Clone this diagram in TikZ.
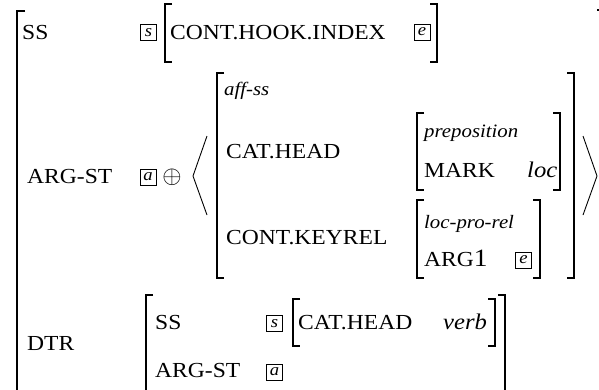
\documentclass[tikz,border=0pt]{standalone}
\usepackage{fontspec}
\setmainfont[FakeStretch=1.1]{Liberation Serif}
\usepackage{tikz}
\usetikzlibrary{positioning,calc}

\begin{document}
\begin{tikzpicture}[
    x=1bp, y=-1bp,
    feat/.style={anchor=base west, inner sep=0pt, font=\fontsize{21.5}{24}\selectfont},
    typ/.style={anchor=base west, inner sep=0pt, font=\fontsize{19}{22}\selectfont\itshape},
    val/.style={anchor=base west, inner sep=0pt, font=\fontsize{22.5}{26}\selectfont\itshape},
    tag/.style={draw, line width=0.6pt, inner sep=0pt, minimum width=16bp, minimum height=16bp, font=\fontsize{17}{17}\selectfont\itshape},
    brak/.style={line width=1.1pt},
    angl/.style={line width=0.9pt}
]
    \useasboundingbox (0,0) rectangle (599,389);
    \clip (0,0) rectangle (599,389);

    % Outer brackets
    \draw[brak] (25,11) -| (17,400);
    \draw[brak] (597,10) -| (606,400);

    % SS row
    \node (ss) [feat] at (22,39) {SS};
    \node (tags) [tag] at (148.5,32.5) {s};
    \draw[brak] (172,4) -| (165,62) -- (172,62);
    \node (hook) [feat] at (170,39) {CONT.HOOK.INDEX};
    \node (tage) [tag] at (422,32) {e};
    \draw[brak] (430,4) -| (437,62) -- (430,62);

    % ARG-ST row
    \node (argst) [feat] at (27,183) {ARG-ST};
    \node (taga) [tag] at (148,177) {a};
    \node (oplus) [inner sep=0pt, font=\fontsize{28}{28}\selectfont] at (172,177) {$\oplus$};
    \draw[angl] (207,136) -- (193,176) -- (207,215);
    \draw[brak] (224,73) -| (217,278) -- (224,278);
    \node (affss) [typ] at (224,95) {aff-ss};
    \node (cathead) [feat] at (226,158) {CAT.HEAD};
    \node (keyrel) [feat] at (226,244) {CONT.KEYREL};
    % preposition
    \draw[brak] (424,113) -| (417,190) -- (424,190);
    \node (prep) [typ] at (424,137) {preposition};
    \node (mark) [feat] at (424,177) {MARK};
    \node (loc) [val] at (527,177) {loc};
    \draw[brak] (553,113) -| (560,190) -- (553,190);
    % loc-pro-rel
    \draw[brak] (424,200) -| (417,278) -- (424,278);
    \node (locpro) [typ] at (424,228) {loc-pro-rel};
    \node (argone) [feat] at (424,266) {ARG{\fontsize{25}{25}\selectfont 1}};
    \node (tage2) [tag] at (523.5,260) {e};
    \draw[brak] (533,200) -| (540,278) -- (533,278);
    \draw[brak] (567,73) -| (574,278) -- (567,278);
    \draw[angl] (583,136) -- (597,176) -- (583,215);

    % DTR row
    \node (dtr) [feat] at (27,350) {DTR};
    \draw[brak] (153,295) -| (146,400);
    \node (dss) [feat] at (155,329) {SS};
    \node (dtags) [tag] at (274.5,323.5) {s};
    \draw[brak] (300,299) -| (293,346) -- (300,346);
    \node (dcat) [feat] at (298,329) {CAT.HEAD};
    \node (verb) [val] at (443,329) {verb};
    \draw[brak] (488,299) -| (495,346) -- (488,346);
    \node (dargst) [feat] at (155,377) {ARG-ST};
    \node (dtaga) [tag] at (274.5,372) {a};
    \draw[brak] (498,295) -| (505,400);

\end{tikzpicture}
\end{document}
